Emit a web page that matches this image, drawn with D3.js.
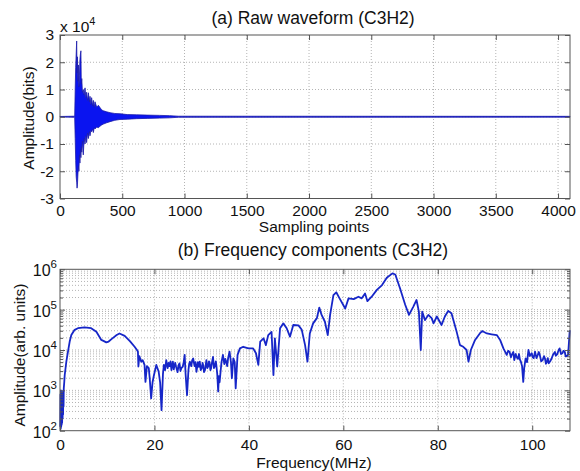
<!DOCTYPE html>
<html>
<head>
<meta charset="utf-8">
<script src="https://cdn.jsdelivr.net/npm/d3@7"></script>
<style>
  body { margin: 0; background: #fff; }
  text { font-family: "Liberation Sans", Arial, sans-serif; fill: #111; }
</style>
</head>
<body>
<svg id="chart" width="580" height="471"></svg>
<script>
// (a) raw waveform, envelope read per sample bin, in units of 10^4 bits
const waveSample = [0, 118, 122, 126, 130, 134, 137, 140, 144, 148, 152, 156, 160, 164, 168, 171, 175, 180, 187, 194,
    201, 208, 214, 221, 228, 236, 241, 248, 254, 262, 268, 275, 281, 295, 308, 321, 335, 348, 375, 402,
    440, 482, 540, 616, 700, 800, 880, 950, 4096]
const waveHi = [0.01, 0.02, 1.0, 1.8, 2.3, 2.78, 1.6, 2.2, 1.3, 1.9, 1.1, 1.5, 2.1, 2.3, 2.42, 1.2, 1.4, 0.9, 1.0, 0.8,
    1.06, 0.7, 0.9, 0.6, 0.88, 0.55, 0.75, 0.45, 0.7, 0.4, 0.6, 0.35, 0.55, 0.35, 0.42, 0.34, 0.25, 0.22, 0.18, 0.15,
    0.12, 0.11, 0.08, 0.07, 0.06, 0.05, 0.04, 0.02, 0.015]
const waveLo = [-0.01, -0.02, -0.8, -1.6, -2.2, -2.4, -2.62, -2.5, -2.1, -1.8, -2.0, -1.4, -1.7, -1.2, -1.5, -1.1, -1.3, -0.9, -1.4, -0.8,
    -1.0, -0.7, -0.95, -0.6, -0.8, -0.55, -0.7, -0.5, -0.55, -0.45, -0.58, -0.4, -0.45, -0.38, -0.4, -0.35, -0.3, -0.27, -0.22, -0.18,
    -0.13, -0.1, -0.09, -0.07, -0.06, -0.05, -0.04, -0.02, -0.015]
const waveXTicks = [0, 500, 1000, 1500, 2000, 2500, 3000, 3500, 4000]
const waveYTicks = [-3, -2, -1, 0, 1, 2, 3]

// (b) frequency components: MHz and log10(amplitude)
const specFreq = [
    0.05, 0.1, 0.15, 0.2, 0.25, 0.3, 0.35, 0.4, 0.45, 0.5,
    0.55, 0.6, 0.65, 0.7, 0.75, 0.8, 0.9, 1.0, 1.34, 1.69,
    2.05, 2.4, 3.1, 3.8, 5.2, 6.6, 7.7, 8.75, 9.3, 9.8,
    10.3, 10.9, 12.0, 12.6, 13.7, 14.8, 15.8, 16.3, 16.5, 16.6,
    16.8, 17.2, 17.5, 17.9, 18.1, 18.4, 18.8, 19.0, 19.3, 19.6,
    19.9, 20.4, 20.9, 21.2, 21.5, 21.8, 22.0, 22.25, 22.5, 22.8,
    23.0, 23.2, 23.4, 23.6, 23.9, 24.1, 24.2, 24.4, 24.6, 24.9,
    25.1, 25.3, 25.5, 25.7, 26.0, 26.2, 26.4, 26.6, 26.9, 27.2,
    27.35, 27.5, 27.8, 28.0, 28.2, 28.5, 28.7, 28.9, 29.2, 29.4,
    29.6, 29.8, 30.0, 30.2, 30.3, 30.5, 30.7, 31.0, 31.2, 31.4,
    31.55, 31.7, 31.85, 32.0, 32.2, 32.4, 32.6, 32.8, 33.0, 33.1,
    33.3, 33.5, 33.65, 33.8, 34.0, 34.2, 34.5, 34.8, 35.0, 35.2,
    35.4, 35.6, 35.9, 36.2, 36.4, 36.7, 37.0, 37.2, 37.6, 38.1,
    38.8, 39.9, 40.9, 41.5, 42.0, 42.4, 43.1, 43.6, 44.1, 44.8,
    45.2, 45.5, 46.0, 46.6, 47.3, 48.0, 48.7, 49.4, 50.5, 51.2,
    51.9, 52.4, 52.9, 53.6, 54.4, 54.9, 55.4, 56.1, 56.7, 57.2,
    57.9, 58.5, 59.2, 60.4, 61.1, 62.2, 63.2, 63.9, 64.6, 65.1,
    66.0, 67.1, 68.2, 69.2, 70.4, 71.0, 72.0, 73.1, 73.9, 74.8,
    75.5, 76.0, 76.4, 76.7, 77.3, 78.0, 78.7, 79.1, 79.8, 80.8,
    81.5, 82.2, 82.9, 84.0, 84.7, 85.4, 86.1, 86.5, 87.0, 87.9,
    88.9, 89.4, 90.4, 91.4, 92.5, 93.2, 93.9, 94.6, 94.9, 95.2,
    95.5, 95.7, 96.0, 96.2, 96.5, 96.7, 97.0, 97.2, 97.4, 97.6,
    97.85, 98.1, 98.3, 98.6, 98.9, 99.2, 99.5, 99.9, 100.1, 100.3,
    100.6, 100.9, 101.1, 101.4, 101.6, 101.9, 102.2, 102.5, 102.7, 102.9,
    103.1, 103.3, 103.5, 103.8, 104.1, 104.4, 104.8, 105.0, 105.3, 105.6,
    105.8, 106.1, 106.4, 106.6, 106.9, 107.1, 107.3, 107.6, 107.95]
const specLog10 = [
    2.1, 2.9, 2.05, 3.0, 2.1, 2.95, 2.15, 2.9, 2.2, 2.95,
    2.3, 2.9, 2.4, 3.0, 2.6, 3.05, 3.2, 3.38, 3.71, 3.96,
    4.21, 4.37, 4.50, 4.54, 4.56, 4.54, 4.45, 4.25, 4.22, 4.19,
    4.21, 4.27, 4.37, 4.41, 4.35, 4.22, 4.08, 4.0, 3.96, 3.59,
    3.85, 3.71, 3.75, 3.63, 3.21, 3.6, 3.55, 3.3, 2.8, 3.2,
    3.38, 3.63, 3.46, 3.2, 2.51, 3.4, 3.63, 3.5, 3.75, 3.55,
    3.68, 3.6, 3.72, 3.5, 3.71, 3.52, 3.6, 3.68, 3.58, 3.45,
    3.62, 3.67, 3.48, 3.55, 3.59, 3.7, 3.88, 3.4, 2.88, 3.5,
    3.65, 3.71, 3.6, 3.75, 3.79, 3.6, 3.7, 3.46, 3.7, 3.58,
    3.71, 3.5, 3.55, 3.68, 3.63, 3.45, 3.5, 3.75, 3.55, 3.6,
    3.72, 3.67, 3.5, 3.55, 3.7, 3.83, 3.55, 3.6, 3.72, 3.63,
    3.4, 2.97, 3.35, 3.2, 3.46, 3.7, 3.88, 3.65, 3.78, 3.71,
    3.6, 3.8, 3.96, 3.7, 3.30, 3.79, 3.7, 3.05, 3.88, 4.04,
    4.08, 4.04, 4.04, 3.92, 3.63, 4.21, 4.29, 4.12, 4.37, 4.45,
    3.38, 4.29, 3.59, 4.54, 4.66, 4.54, 4.33, 4.62, 4.61, 4.50,
    4.12, 3.71, 4.41, 4.66, 4.79, 5.05, 4.87, 4.70, 4.37, 4.87,
    5.36, 5.43, 5.28, 5.03, 5.28, 5.26, 5.32, 5.28, 5.40, 5.21,
    5.32, 5.49, 5.61, 5.79, 5.9, 5.87, 5.53, 5.12, 4.87, 5.07,
    5.24, 4.95, 4.0, 4.95, 4.74, 4.87, 4.79, 4.66, 4.83, 4.62,
    4.83, 4.97, 4.91, 4.45, 4.12, 4.08, 4.0, 3.71, 4.0, 4.25,
    4.41, 4.47, 4.41, 4.39, 4.37, 4.25, 4.04, 3.88, 3.98, 3.95,
    3.82, 3.89, 3.95, 3.75, 3.9, 3.83, 3.78, 3.9, 3.76, 3.71,
    3.6, 3.21, 3.55, 3.79, 3.7, 4.0, 3.85, 3.92, 3.82, 3.8,
    3.96, 3.8, 3.85, 3.95, 3.88, 3.72, 3.75, 3.85, 3.79, 3.66,
    3.7, 3.8, 3.67, 3.72, 3.79, 3.88, 3.95, 3.86, 3.9, 4.0,
    4.04, 3.9, 3.92, 3.98, 3.95, 3.84, 3.85, 3.88, 4.49]
const specXTicks = [0, 20, 40, 60, 80, 100]
const specDecades = [2, 3, 4, 5, 6]

const svg = d3.select('#chart')
const boxColor = '#555'
const gridColor = '#b4b4b4'
const plainNum = d => String(d)

function frame(g, w, h) {
    g.append('rect').attr('width', w).attr('height', h)
        .attr('fill', 'none').attr('stroke', boxColor).attr('stroke-width', 1)
}

// ---------- (a) raw waveform ----------
let a = {left: 60, top: 35, width: 510, height: 163.5}
let xA = d3.scaleLinear().domain([0, 4096]).range([0, a.width]),
    yA = d3.scaleLinear().domain([-3, 3]).range([a.height, 0])
let gA = svg.append('g').attr('transform', 'translate(' + a.left + ',' + a.top + ')')

gA.append('g').selectAll('line').data(waveXTicks.slice(1)).enter().append('line')
    .attr('x1', d => xA(d)).attr('x2', d => xA(d)).attr('y1', 0).attr('y2', a.height)
    .attr('stroke', gridColor).attr('stroke-dasharray', '1,2')
gA.append('g').selectAll('line').data(waveYTicks.slice(1, -1)).enter().append('line')
    .attr('x1', 0).attr('x2', a.width).attr('y1', d => yA(d)).attr('y2', d => yA(d))
    .attr('stroke', gridColor).attr('stroke-dasharray', '1,2')

let waveData = waveSample.map((s, i) => ({s: s, hi: waveHi[i], lo: waveLo[i]}))
gA.append('path').datum(waveData)
    .attr('d', d3.area().x(d => xA(d.s)).y0(d => yA(d.lo)).y1(d => yA(d.hi)))
    .attr('fill', '#0a14f0').attr('stroke', '#1c1ca8').attr('stroke-width', 0.8)

gA.append('g').attr('transform', 'translate(0,' + a.height + ')')
    .call(d3.axisBottom(xA).tickValues(waveXTicks).tickSize(-5).tickPadding(6).tickFormat(plainNum))
gA.append('g')
    .call(d3.axisTop(xA).tickValues(waveXTicks).tickSize(-5).tickFormat(''))
gA.append('g')
    .call(d3.axisLeft(yA).tickValues(waveYTicks).tickSize(-5).tickPadding(6).tickFormat(plainNum))
gA.append('g').attr('transform', 'translate(' + a.width + ',0)')
    .call(d3.axisRight(yA).tickValues(waveYTicks).tickSize(-5).tickFormat(''))
frame(gA, a.width, a.height)

let tA = svg.append('text').attr('x', 60).attr('y', 32).attr('font-size', 15.5).text('x 10')
tA.append('tspan').attr('dy', -7).attr('font-size', 11).text('4')

svg.append('text').attr('x', 313).attr('y', 24).attr('text-anchor', 'middle')
    .attr('font-size', 17.5).text('(a) Raw waveform (C3H2)')
svg.append('text').attr('x', 314).attr('y', 232).attr('text-anchor', 'middle')
    .attr('font-size', 15.5).text('Sampling points')
svg.append('text').attr('transform', 'translate(34,118) rotate(-90)').attr('text-anchor', 'middle')
    .attr('font-size', 15.5).text('Amplitude(bits)')

// ---------- (b) frequency components ----------
let b = {left: 60, top: 269.3, width: 510, height: 161.4}
let xB = d3.scaleLinear().domain([0, 108]).range([0, b.width]),
    yB = d3.scaleLog().domain([1e2, 1e6]).range([b.height, 0])
let gB = svg.append('g').attr('transform', 'translate(' + b.left + ',' + b.top + ')')

let minorTicks = []
specDecades.slice(0, -1).forEach(k => {
    for (let m = 2; m <= 9; m++) minorTicks.push(m * Math.pow(10, k))
})
let majorTicks = specDecades.map(k => Math.pow(10, k))

gB.append('g').selectAll('line').data(minorTicks.concat(majorTicks.slice(1, -1))).enter().append('line')
    .attr('x1', 0).attr('x2', b.width).attr('y1', d => yB(d)).attr('y2', d => yB(d))
    .attr('stroke', gridColor).attr('stroke-dasharray', '1,2')
gB.append('g').selectAll('line').data(specXTicks.slice(1)).enter().append('line')
    .attr('x1', d => xB(d)).attr('x2', d => xB(d)).attr('y1', 0).attr('y2', b.height)
    .attr('stroke', gridColor).attr('stroke-dasharray', '1,2')

let specData = specFreq.map((f, i) => ({f: f, v: Math.pow(10, specLog10[i])}))
gB.append('path').datum(specData)
    .attr('d', d3.line().x(d => xB(d.f)).y(d => yB(d.v)))
    .attr('fill', 'none').attr('stroke', '#1626c8').attr('stroke-width', 1.8).attr('stroke-linejoin', 'round')

gB.append('g').attr('transform', 'translate(0,' + b.height + ')')
    .call(d3.axisBottom(xB).tickValues(specXTicks).tickSize(-5).tickPadding(8).tickFormat(plainNum))
gB.append('g')
    .call(d3.axisTop(xB).tickValues(specXTicks).tickSize(-5).tickFormat(''))
gB.append('g').call(d3.axisLeft(yB).tickValues(majorTicks).tickSize(-5).tickFormat(''))
gB.append('g').call(d3.axisLeft(yB).tickValues(minorTicks).tickSize(-3).tickFormat(''))
gB.append('g').attr('transform', 'translate(' + b.width + ',0)')
    .call(d3.axisRight(yB).tickValues(majorTicks).tickSize(-5).tickFormat(''))
gB.append('g').attr('transform', 'translate(' + b.width + ',0)')
    .call(d3.axisRight(yB).tickValues(minorTicks).tickSize(-3).tickFormat(''))
frame(gB, b.width, b.height)

let decadeLabels = gB.append('g').selectAll('text').data(specDecades).enter().append('text')
    .attr('x', -3).attr('y', d => yB(Math.pow(10, d)) + 7)
    .attr('text-anchor', 'end').attr('font-size', 16)
    .text('10')
decadeLabels.append('tspan').attr('dy', -8).attr('font-size', 11.5).text(d => d)

svg.selectAll('.tick text').attr('font-size', 15.5)
    .attr('font-family', '"Liberation Sans", Arial, sans-serif').attr('fill', '#111')
svg.selectAll('.domain').attr('stroke', 'none')
svg.selectAll('.tick line').attr('stroke', boxColor)

svg.append('text').attr('x', 313).attr('y', 256).attr('text-anchor', 'middle')
    .attr('font-size', 17.5).text('(b) Frequency components (C3H2)')
svg.append('text').attr('x', 314).attr('y', 468).attr('text-anchor', 'middle')
    .attr('font-size', 15.5).text('Frequency(MHz)')
svg.append('text').attr('transform', 'translate(25,355) rotate(-90)').attr('text-anchor', 'middle')
    .attr('font-size', 15.5).text('Amplitude(arb. units)')
</script>
</body>
</html>
